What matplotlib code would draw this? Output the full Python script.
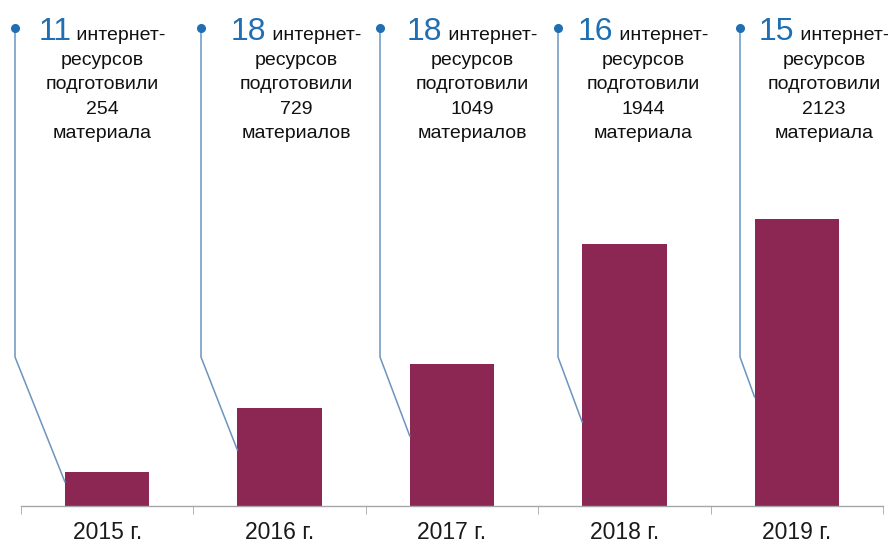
import matplotlib
matplotlib.use("Agg")
import matplotlib.pyplot as plt
from matplotlib.transforms import Affine2D

# ---- data ----
years = ["2015 г.", "2016 г.", "2017 г.", "2018 г.", "2019 г."]
materials = [254, 729, 1049, 1944, 2123]
resources = [11, 18, 18, 16, 15]
material_words = ["материала", "материалов", "материалов", "материала", "материала"]

# ---- layout (pixels in 888x545 figure) ----
W, H = 888, 545
dot_x_px = [15, 201, 380, 558, 740]
text_cx_px = [102, 296, 472, 643, 824]
end_y_px = [482, 450, 436, 422, 397]
dot_y_px = 28
kink_y_px = 357
baselines_px = [40, 64.6, 89.2, 113.8, 138.4]

BAR = "#8b2752"
BLUE = "#1f6fb2"
LINE = "#6b95bd"
FONT = "Liberation Sans"

fig = plt.figure(figsize=(W / 100, H / 100), dpi=100)
ax = fig.add_axes([21 / W, 1 - 506 / H, (883 - 21) / W, 506 / H])
x = list(range(len(years)))
ymax = 506 * 7.41
ax.bar(x, materials, width=0.49, color=BAR, zorder=2)
ax.set_xlim(-0.5, len(years) - 0.5)
ax.set_ylim(0, ymax)

for s in ["top", "left", "right"]:
    ax.spines[s].set_visible(False)
ax.spines["bottom"].set_color("#a6a6a6")
ax.spines["bottom"].set_linewidth(1.0)
ax.set_yticks([])
ax.set_xticks(x)
ax.set_xticklabels(years, fontsize=16.5, family=FONT, color="#1a1a1a")
ax.tick_params(axis="x", length=0, pad=11)
ax.set_xticks([i - 0.5 for i in range(len(years) + 1)], minor=True)
ax.tick_params(axis="x", which="minor", length=6, color="#a6a6a6", direction="out")

# pixel transform (origin top-left)
pix = Affine2D().scale(1 / W, -1 / H).translate(0, 1) + fig.transFigure
inv = fig.transFigure.inverted()

for i in range(len(years)):
    # callout line from dot down, then to the left edge of the bar
    bar_left = i - 0.49 / 2
    ex_disp = ax.transData.transform((bar_left, 0))[0]
    ey_disp = pix.transform((0, end_y_px[i]))[1]
    p0 = pix.transform((dot_x_px[i], dot_y_px))
    p1 = pix.transform((dot_x_px[i], kink_y_px))
    pts = inv.transform([(p0[0], p0[1]), (p1[0], p1[1]), (ex_disp, ey_disp)])
    fig.add_artist(plt.Line2D(pts[:, 0], pts[:, 1], transform=fig.transFigure,
                              color=LINE, lw=1.1, zorder=1))
    fig.add_artist(plt.Line2D([pts[0, 0]], [pts[0, 1]], transform=fig.transFigure,
                              marker="o", markersize=5.5, color=BLUE, lw=0, zorder=3))

fig.canvas.draw()
renderer = fig.canvas.get_renderer()

for i in range(len(years)):
    cx = text_cx_px[i]
    t_num = fig.text(0, 0, str(resources[i]), transform=pix, fontsize=23,
                     family=FONT, color=BLUE, va="baseline", ha="left")
    t_word = fig.text(0, 0, " интернет-", transform=pix, fontsize=14,
                      family=FONT, color="#111111", va="baseline", ha="left")
    wn = t_num.get_window_extent(renderer).width
    ww = t_word.get_window_extent(renderer).width
    start = cx - (wn + ww) / 2
    t_num.set_position((start, baselines_px[0]))
    t_word.set_position((start + wn, baselines_px[0]))
    lines = ["ресурсов", "подготовили", str(materials[i]), material_words[i]]
    for k, s in enumerate(lines):
        fig.text(cx, baselines_px[k + 1], s, transform=pix, fontsize=14,
                 family=FONT, color="#111111", va="baseline", ha="center")

fig.savefig("out.png", dpi=100, facecolor="white")
